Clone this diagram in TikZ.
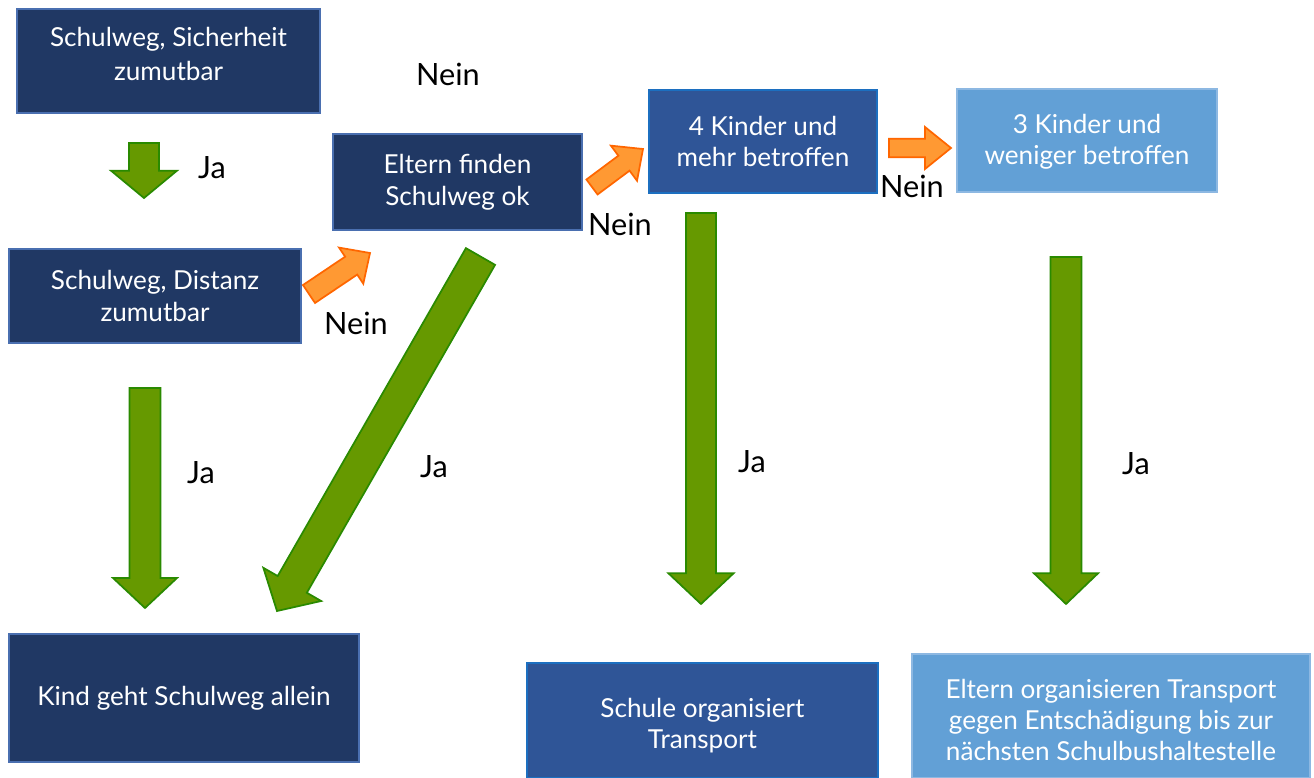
\documentclass[tikz,border=0pt]{standalone}
\usepackage{fontspec}
\setmainfont{Lato}
\usetikzlibrary{calc}
\definecolor{navy}{HTML}{203864}
\definecolor{navyb}{HTML}{4A6FB0}
\definecolor{midblue}{HTML}{2F5597}
\definecolor{midblueb}{HTML}{1C6FC0}
\definecolor{lightblue}{HTML}{62A0D6}
\definecolor{lightblueb}{HTML}{8DB8E2}
\definecolor{gfill}{HTML}{669900}
\definecolor{gline}{HTML}{2A8A00}
\definecolor{ofill}{HTML}{FF9933}
\definecolor{oline}{HTML}{FF6600}
\tikzset{
  box/.style={rectangle, align=center, text=white, inner sep=0pt, line width=1pt,
    font=\fontsize{19.6}{23.5}\selectfont},
  darkbox/.style={box, fill=navy, draw=navyb},
  midbox/.style={box, fill=midblue, draw=midblueb},
  lightbox/.style={box, fill=lightblue, draw=lightblueb},
  boxtext/.style={align=center, text=white, inner sep=0pt, font=\fontsize{19.6}{23.5}\selectfont},
  garrow/.style={fill=gfill, draw=gline, line width=1.3pt, line join=miter},
  oarrow/.style={fill=ofill, draw=oline, line width=1.3pt, line join=miter},
  lbl/.style={font=\fontsize{23}{26}\selectfont, text=black, inner sep=0pt}
}
% #1 style, #2 start, #3 tip, #4 half shaft, #5 half head, #6 head length
\newcommand\blockarr[6]{%
  \coordinate (ba) at (#2); \coordinate (bt) at (#3);
  \coordinate (bh) at ($(bt)!#6!(ba)$);
  \draw[#1] ($(ba)!#4!90:(bt)$) -- ($(bh)!#4!-90:(ba)$) -- ($(bh)!#5!-90:(ba)$)
    -- (bt) -- ($(bh)!#5!90:(ba)$) -- ($(bh)!#4!90:(ba)$) -- ($(ba)!#4!-90:(bt)$) -- cycle;}
\begin{document}
\begin{tikzpicture}[x=0.75pt,y=-0.75pt]
\useasboundingbox[fill=white] (0,0) rectangle (1314,778);
% boxes
\node[darkbox, minimum width=227.25pt, minimum height=78pt] (b1) at (168.5,61) {};
\node[boxtext, font=\fontsize{19.6}{25.5}\selectfont] (b1t) at (168.5,54) {Schulweg, Sicherheit\\zumutbar};
\node[darkbox, minimum width=219pt, minimum height=70.5pt, font=\fontsize{19.6}{24}\selectfont] (b2) at (155,296) {Schulweg, Distanz\\zumutbar};
\node[darkbox, minimum width=186.75pt, minimum height=72pt, font=\fontsize{19.6}{24}\selectfont] (b3) at (457.5,182) {Eltern finden\\Schulweg ok};
\node[midbox, minimum width=171pt, minimum height=77.25pt] (b4) at (763,141.5) {4 Kinder und\\mehr betroffen};
\node[lightbox, minimum width=195pt, minimum height=77.25pt] (b5) at (1087,140.5) {};
\node[boxtext] (b5t) at (1087,142) {3 Kinder und\\weniger betroffen};
\node[darkbox, minimum width=262.5pt, minimum height=96pt] (b6) at (184,698) {Kind geht Schulweg allein};
\node[midbox, minimum width=263.25pt, minimum height=86.25pt] (b7) at (702.5,720.5) {};
\node[boxtext] (b7t) at (702.5,725.5) {Schule organisiert\\Transport};
\node[lightbox, minimum width=298.5pt, minimum height=93pt] (b8) at (1111,716) {};
\node[boxtext] (b8t) at (1111,720) {Eltern organisieren Transport\\gegen Entschädigung bis zur\\nächsten Schulbushaltestelle};
% arrow end points
\coordinate (a1s) at (144,143); \coordinate (a1t) at (144,198);
\coordinate (a2s) at (145,388); \coordinate (a2t) at (145,608);
\coordinate (a3s) at (480.5,256.5); \coordinate (a3t) at (277,611);
\coordinate (a4s) at (701,213); \coordinate (a4t) at (701,604);
\coordinate (a5s) at (1066,257); \coordinate (a5t) at (1066,604);
\coordinate (o1s) at (309,294); \coordinate (o1t) at (370,253);
\coordinate (o2s) at (592,187); \coordinate (o2t) at (643,149);
\coordinate (o3s) at (889,148); \coordinate (o3t) at (951,148);
% green arrows
\blockarr{garrow}{a1s}{a1t}{11.25pt}{24.75pt}{20.5pt}
\blockarr{garrow}{a2s}{a2t}{11.6pt}{24pt}{22.5pt}
\blockarr{garrow}{a3s}{a3t}{12.6pt}{25pt}{23pt}
\blockarr{garrow}{a4s}{a4t}{11.25pt}{24.4pt}{23pt}
\blockarr{garrow}{a5s}{a5t}{11.6pt}{24pt}{23pt}
% orange arrows
\blockarr{oarrow}{o1s}{o1t}{8.1pt}{16.3pt}{17pt}
\blockarr{oarrow}{o2s}{o2t}{7pt}{16.4pt}{17.8pt}
\blockarr{oarrow}{o3s}{o3t}{6.9pt}{15.75pt}{19.5pt}
% labels
\node[lbl] (n1) at (448,74) {Nein};
\node[lbl] (j1) at (212,168) {Ja};
\node[lbl] (n2) at (356,323) {Nein};
\node[lbl] (n3) at (620,224) {Nein};
\node[lbl] (n4) at (912,186) {Nein};
\node[lbl] (j2) at (201,473) {Ja};
\node[lbl] (j3) at (434,467) {Ja};
\node[lbl] (j4) at (752,462) {Ja};
\node[lbl] (j5) at (1136,464) {Ja};
\end{tikzpicture}
\end{document}
